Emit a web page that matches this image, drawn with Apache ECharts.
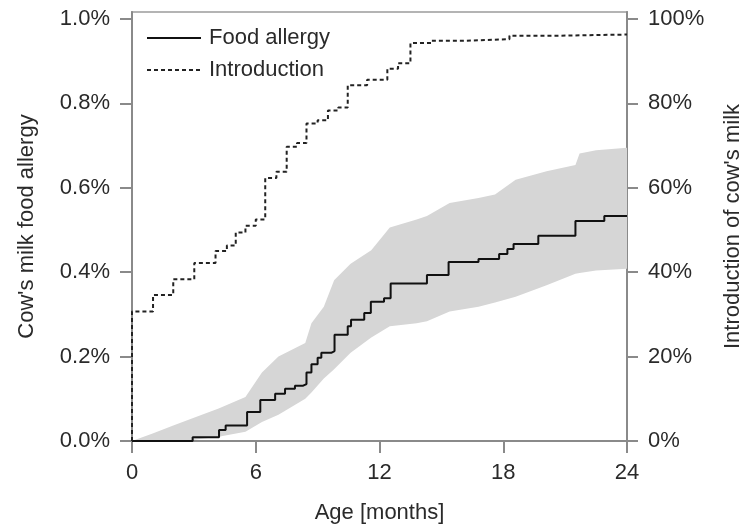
<!DOCTYPE html>
<html>
<head>
<meta charset="utf-8">
<script src="https://cdn.jsdelivr.net/npm/echarts@6/dist/echarts.min.js"></script>
<style>
html,body{margin:0;padding:0;background:#fff;}
#chart{width:752px;height:529px;}
</style>
</head>
<body>
<div id="chart"></div>
<script>
// ---- data ----
const xTicks = [0, 6, 12, 18, 24];
const leftTickValues = [0, 0.2, 0.4, 0.6, 0.8, 1.0];
const leftTickLabels = ['0.0%', '0.2%', '0.4%', '0.6%', '0.8%', '1.0%'];
const rightTickValues = [0, 20, 40, 60, 80, 100];
const rightTickLabels = ['0%', '20%', '40%', '60%', '80%', '100%'];

// Food allergy (cumulative %, step at listed month)
const allergyMonths = [0, 2.94, 4.22, 4.54, 5.58, 6.22, 6.94, 7.42, 7.9, 8.3, 8.46, 8.7, 9.0, 9.18, 9.66, 9.82, 10.46, 10.62, 11.26, 11.58, 12.22, 12.54, 14.3, 15.35, 16.8, 17.8, 18.2, 18.5, 19.7, 21.5, 22.9, 24];
const allergyValues = [0, 0.009, 0.026, 0.037, 0.069, 0.097, 0.112, 0.124, 0.131, 0.135, 0.162, 0.182, 0.197, 0.209, 0.213, 0.252, 0.272, 0.287, 0.303, 0.330, 0.338, 0.373, 0.393, 0.424, 0.431, 0.443, 0.455, 0.467, 0.486, 0.521, 0.533, 0.533];

// Introduction of cow's milk (cumulative %, step at listed month)
const introMonths = [0, 0, 1.02, 2.0, 3.02, 4.05, 4.6, 5.03, 5.5, 6.0, 6.46, 7.0, 7.5, 8.0, 8.46, 9.0, 9.5, 10.0, 10.46, 11.4, 12.38, 12.9, 13.5, 14.5, 16.0, 18.3, 20.3, 24];
const introValues = [0, 30.7, 34.6, 38.3, 42.2, 45.0, 46.3, 49.4, 51.0, 52.5, 62.3, 63.8, 69.7, 70.6, 75.2, 76.0, 78.3, 79.0, 84.3, 85.6, 88.2, 89.5, 94.3, 94.8, 95.2, 96.0, 96.3, 96.3];

// Confidence band for food allergy
const bandMonths = [0, 1, 2, 3, 4.2, 5.5, 6.3, 7.1, 8.4, 8.7, 9.3, 9.8, 10.6, 11.6, 12.5, 13.8, 14.3, 15.4, 16.8, 17.6, 18.6, 20.1, 21.5, 21.7, 22.5, 24];
const bandUpper = [0, 0.018, 0.037, 0.055, 0.077, 0.104, 0.162, 0.200, 0.232, 0.279, 0.318, 0.381, 0.420, 0.452, 0.506, 0.525, 0.533, 0.564, 0.576, 0.584, 0.619, 0.639, 0.654, 0.681, 0.689, 0.695];
const bandLower = [0, 0, 0, 0.003, 0.010, 0.022, 0.045, 0.062, 0.100, 0.115, 0.148, 0.170, 0.209, 0.245, 0.272, 0.279, 0.284, 0.307, 0.318, 0.328, 0.342, 0.369, 0.396, 0.398, 0.404, 0.408];

// ---- chart ----
const FONT = 'Liberation Sans, Arial, sans-serif';
const TEXT = '#2a2a2a';
const AXIS = '#8a8a8a';

const chart = echarts.init(document.getElementById('chart'), null, {renderer: 'canvas'});

const option = {
  animation: false,
  backgroundColor: '#ffffff',
  grid: {
    left: 132, right: 120, top: 12, bottom: 83,
    show: true, borderColor: '#b4b4b4', borderWidth: 2, backgroundColor: 'transparent'
  },
  legend: {
    data: ['Food allergy', 'Introduction'],
    orient: 'vertical',
    left: 141, top: 22,
    itemWidth: 54, itemHeight: 14, itemGap: 10,
    itemStyle: {opacity: 0},
    textStyle: {fontFamily: FONT, fontSize: 22, color: TEXT, padding: [0, 0, 0, 3]}
  },
  xAxis: {
    type: 'value', min: 0, max: 24, interval: 6,
    name: 'Age [months]', nameLocation: 'middle', nameGap: 61,
    nameTextStyle: {fontFamily: FONT, fontSize: 22, color: TEXT},
    axisLine: {show: true, onZero: false, lineStyle: {color: AXIS, width: 2}},
    axisTick: {show: true, length: 12, lineStyle: {color: AXIS, width: 2}},
    axisLabel: {fontFamily: FONT, fontSize: 22, color: TEXT, margin: 21,
      formatter: v => (xTicks.indexOf(v) >= 0 ? String(v) : '')},
    splitLine: {show: false}
  },
  yAxis: [
    {
      type: 'value', position: 'left', min: 0, max: 1.0164,
      name: "Cow's milk food allergy", nameLocation: 'middle', nameGap: 94, nameRotate: 90,
      nameTextStyle: {fontFamily: FONT, fontSize: 22, color: TEXT},
      axisLine: {show: true, onZero: false, lineStyle: {color: AXIS, width: 2}},
      axisTick: {show: true, length: 12, customValues: leftTickValues, lineStyle: {color: AXIS, width: 2}},
      axisLabel: {customValues: leftTickValues, fontFamily: FONT, fontSize: 22, color: TEXT, margin: 22,
        formatter: v => leftTickLabels[leftTickValues.findIndex(t => Math.abs(t - v) < 1e-6)] || ''},
      splitLine: {show: false}
    },
    {
      type: 'value', position: 'right', min: 0, max: 101.64,
      name: "Introduction of cow's milk", nameLocation: 'middle', nameGap: 95, nameRotate: 90,
      nameTextStyle: {fontFamily: FONT, fontSize: 22, color: TEXT},
      axisLine: {show: true, onZero: false, lineStyle: {color: AXIS, width: 2}},
      axisTick: {show: true, length: 11, customValues: rightTickValues, lineStyle: {color: AXIS, width: 2}},
      axisLabel: {customValues: rightTickValues, fontFamily: FONT, fontSize: 22, color: TEXT, margin: 21,
        formatter: v => rightTickLabels[rightTickValues.findIndex(t => Math.abs(t - v) < 1e-6)] || ''},
      splitLine: {show: false}
    }
  ],
  series: [
    {
      name: 'band',
      type: 'custom',
      xAxisIndex: 0, yAxisIndex: 0,
      silent: true,
      z: 1,
      data: [[0, 0]],
      renderItem: function (params, api) {
        const pts = [];
        for (let i = 0; i < bandMonths.length; i++) pts.push(api.coord([bandMonths[i], bandUpper[i]]));
        for (let i = bandMonths.length - 1; i >= 0; i--) pts.push(api.coord([bandMonths[i], bandLower[i]]));
        return {type: 'polygon', shape: {points: pts}, style: {fill: '#d6d6d6', stroke: null}};
      }
    },
    {
      name: 'Food allergy',
      type: 'line', step: 'end', symbol: 'none',
      xAxisIndex: 0, yAxisIndex: 0, z: 3,
      data: allergyMonths.map((m, i) => [m, allergyValues[i]]),
      lineStyle: {color: '#111', width: 2},
      itemStyle: {color: '#111'}
    },
    {
      name: 'Introduction',
      type: 'line', step: 'end', symbol: 'none',
      xAxisIndex: 0, yAxisIndex: 1, z: 3,
      data: introMonths.map((m, i) => [m, introValues[i]]),
      lineStyle: {color: '#222', width: 2, type: [4, 3]},
      itemStyle: {color: '#222'}
    }
  ]
};
chart.setOption(option);
</script>
</body>
</html>
